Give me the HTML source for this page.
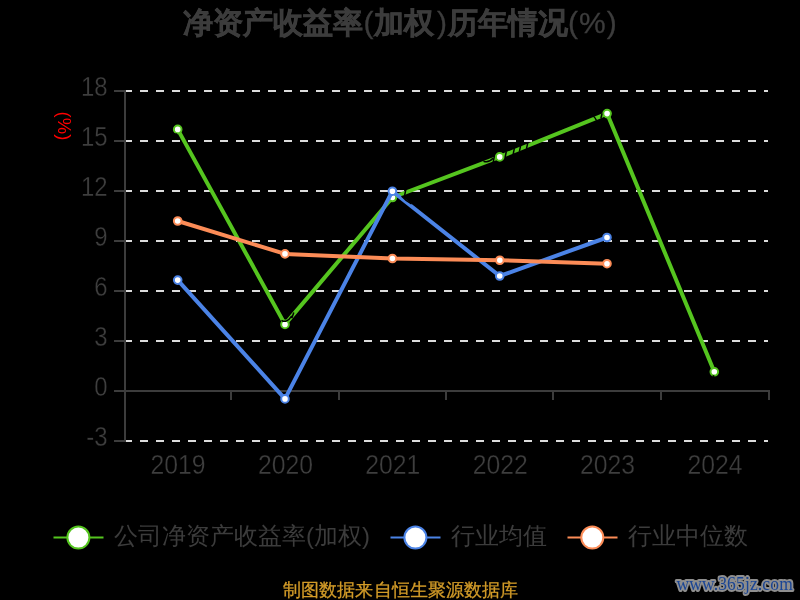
<!DOCTYPE html>
<html><head><meta charset="utf-8">
<style>
html,body{margin:0;padding:0;background:#000;width:800px;height:600px;overflow:hidden;}
svg{display:block;will-change:transform;}
text{font-family:"Liberation Sans",sans-serif;}
</style></head>
<body>
<svg width="800" height="600" viewBox="0 0 800 600">
<rect x="0" y="0" width="800" height="600" fill="#000"/>
<!-- title -->
<text x="183" y="33" font-size="30" font-weight="bold" fill="#3c3c3c" stroke="#3c3c3c" stroke-width="0.5" letter-spacing="0">净资产收益率<tspan font-weight="normal" stroke-width="0.3" dx="0.5">(</tspan>加权<tspan font-weight="normal" stroke-width="0.3" dx="3.5">)</tspan><tspan dx="0.5">历年情况</tspan><tspan font-weight="normal" stroke-width="0.3" dx="0.5" letter-spacing="1">(%)</tspan></text>

<!-- grid dashed lines -->
<g stroke="#dcdcdc" stroke-width="2" stroke-dasharray="8 8">
<line x1="124" y1="91" x2="768" y2="91"/>
<line x1="124" y1="141" x2="768" y2="141"/>
<line x1="124" y1="191" x2="768" y2="191"/>
<line x1="124" y1="241" x2="768" y2="241"/>
<line x1="124" y1="291" x2="768" y2="291"/>
<line x1="124" y1="341" x2="768" y2="341"/>
<line x1="124" y1="441" x2="768" y2="441"/>
</g>
<!-- axes -->
<g stroke="#3c3c3c" stroke-width="2" fill="none">
<line x1="125" y1="90" x2="125" y2="442"/>
<line x1="114" y1="91" x2="125" y2="91"/>
<line x1="114" y1="141" x2="125" y2="141"/>
<line x1="114" y1="191" x2="125" y2="191"/>
<line x1="114" y1="241" x2="125" y2="241"/>
<line x1="114" y1="291" x2="125" y2="291"/>
<line x1="114" y1="341" x2="125" y2="341"/>
<line x1="114" y1="391" x2="125" y2="391"/>
<line x1="114" y1="441" x2="125" y2="441"/>
<line x1="124" y1="391" x2="770" y2="391"/>
<line x1="231" y1="391" x2="231" y2="400"/>
<line x1="339" y1="391" x2="339" y2="400"/>
<line x1="446" y1="391" x2="446" y2="400"/>
<line x1="553" y1="391" x2="553" y2="400"/>
<line x1="661" y1="391" x2="661" y2="400"/>
<line x1="769" y1="390" x2="769" y2="400"/>
</g>
<!-- y labels -->
<g font-size="27.5" fill="#3e3e3e" stroke="#000" stroke-width="0.35" text-anchor="end">
<text transform="translate(107.6,96) scale(0.87,1)">18</text>
<text transform="translate(107.6,146) scale(0.87,1)">15</text>
<text transform="translate(107.6,196) scale(0.87,1)">12</text>
<text transform="translate(107.6,246) scale(0.87,1)">9</text>
<text transform="translate(107.6,296) scale(0.87,1)">6</text>
<text transform="translate(107.6,346) scale(0.87,1)">3</text>
<text transform="translate(107.6,396) scale(0.87,1)">0</text>
<text transform="translate(107.6,446) scale(0.87,1)">-3</text>
</g>
<!-- x labels -->
<g font-size="27.5" fill="#3e3e3e" stroke="#000" stroke-width="0.35" text-anchor="middle">
<text transform="translate(178.1,474) scale(0.9,1)">2019</text>
<text transform="translate(285.5,474) scale(0.9,1)">2020</text>
<text transform="translate(392.8,474) scale(0.9,1)">2021</text>
<text transform="translate(500.2,474) scale(0.9,1)">2022</text>
<text transform="translate(607.5,474) scale(0.9,1)">2023</text>
<text transform="translate(714.9,474) scale(0.9,1)">2024</text>
</g>
<!-- y axis name -->
<text transform="translate(57.6,126) rotate(90)" text-anchor="middle" font-size="18.5" fill="#ff0000">(%)</text>

<!-- series green -->
<polyline fill="none" stroke="#55c51f" stroke-width="4" stroke-linejoin="round" points="177.7,129.4 285,324.4 392.4,197.5 499.7,156.9 607.1,113.6 714.3,371.8"/>
<g fill="#fff" stroke="#55c51f" stroke-width="2">
<circle cx="177.7" cy="129.4" r="3.8"/><circle cx="285" cy="324.4" r="3.8"/><circle cx="392.4" cy="197.5" r="3.8"/>
<circle cx="499.7" cy="156.9" r="3.8"/><circle cx="607.1" cy="113.6" r="3.8"/><circle cx="714.3" cy="371.8" r="3.8"/>
</g>
<!-- label artifacts -->
<path d="M506.30,151.48 L505.10,157.48 M514.40,148.22 L513.20,154.22 M520.60,145.72 L519.40,151.72 M527.70,142.86 L526.50,148.86 M483.5,161.2 Q488.5,163.2 493,158.2 M494.40,156.13 L493.20,162.13 M592.5,115.5 Q595.5,117.5 596.5,120.5 M602.10,113.36 L600.90,118.36 M281.5,320.3 Q286.5,323.8 291.8,315.8 M293.8,312.5 L291.8,318.2 M405.80,189.66 L404.60,195.66" fill="none" stroke="#000" stroke-width="1.5"/>
<!-- series blue -->
<polyline fill="none" stroke="#4b83e6" stroke-width="4" stroke-linejoin="round" points="177.7,280.1 285,398.9 392.4,191.2 499.7,276 607,237.5"/>
<g fill="#fff" stroke="#4b83e6" stroke-width="2">
<circle cx="177.7" cy="280.1" r="3.8"/><circle cx="285" cy="398.9" r="3.8"/><circle cx="392.4" cy="191.2" r="3.8"/>
<circle cx="499.7" cy="276" r="3.8"/><circle cx="607" cy="237.5" r="3.8"/>
</g>
<path d="M402,196.6 Q406.5,201.6 411,203.6 M713.2,375.8 L713.8,376.2 M176,133.8 L176.6,134.2 M604,118.2 L604.6,118.6" fill="none" stroke="#000" stroke-width="1.5" stroke-linecap="round"/>
<!-- series orange -->
<polyline fill="none" stroke="#fc8c57" stroke-width="4" stroke-linejoin="round" points="177.7,221 285,253.9 392.4,258.5 499.8,260.25 607,263.7"/>
<g fill="#fff" stroke="#fc8c57" stroke-width="2">
<circle cx="177.7" cy="221" r="3.8"/><circle cx="285" cy="253.9" r="3.8"/><circle cx="392.4" cy="258.5" r="3.8"/>
<circle cx="499.8" cy="260.25" r="3.8"/><circle cx="607" cy="263.7" r="3.8"/>
</g>

<!-- legend -->
<g stroke-width="2">
<line x1="53.5" y1="537.6" x2="103.5" y2="537.6" stroke="#55c51f"/>
<circle cx="78.4" cy="537.6" r="11" fill="#fff" stroke="#55c51f"/>
<line x1="390.5" y1="537.6" x2="440.5" y2="537.6" stroke="#4b83e6"/>
<circle cx="415.4" cy="537.6" r="11" fill="#fff" stroke="#4b83e6"/>
<line x1="567.5" y1="537.6" x2="617.5" y2="537.6" stroke="#fc8c57"/>
<circle cx="592.3" cy="537.6" r="11" fill="#fff" stroke="#fc8c57"/>
</g>
<g font-size="24" fill="#3c3c3c">
<text x="114" y="543.7">公司净资产收益率(加权)</text>
<text x="451" y="543.7">行业均值</text>
<text x="628" y="543.7">行业中位数</text>
</g>

<!-- source -->
<text x="283.3" y="596" font-size="18" fill="#d29b28" stroke="#d29b28" stroke-width="0.3" letter-spacing="0.05">制图数据来自恒生聚源数据库</text>
<!-- watermark -->
<text transform="translate(676.5,590.3) scale(1,1.06)" font-size="17.5" fill="#1a4595" stroke="#8e8e8e" stroke-width="3.6" stroke-linejoin="round" paint-order="stroke" letter-spacing="0.15" style="font-family:'Liberation Serif',serif">www.365jz.com</text>
</svg>
</body></html>
